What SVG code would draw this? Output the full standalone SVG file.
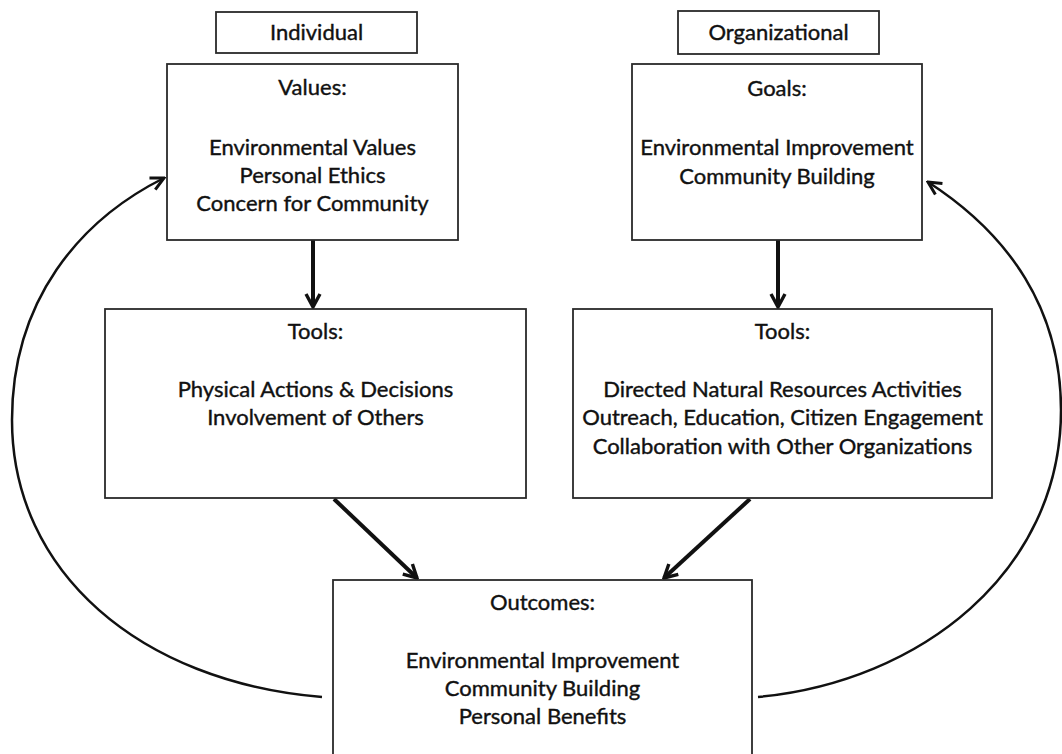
<svg xmlns="http://www.w3.org/2000/svg" width="1062" height="754" viewBox="0 0 1062 754">
  <style>
    .box { fill: #fff; stroke: #2a2a2a; stroke-width: 1.8; }
    .lbl { font-family: Lato, "Liberation Sans", sans-serif; font-size: 22px; fill: #111; stroke: #111; stroke-width: 0.4; text-anchor: middle; }
    .main { fill: none; stroke: #111; stroke-width: 4; }
    .loop { fill: none; stroke: #111; stroke-width: 2.5; }
  </style>
  <defs>
    <marker id="headThick" viewBox="0 0 18 18" refX="16" refY="9" markerWidth="18" markerHeight="18" markerUnits="userSpaceOnUse" orient="auto">
      <path d="M3,2 L16,9 L3,16" fill="none" stroke="#111" stroke-width="3.4" stroke-linejoin="miter"/>
    </marker>
    <marker id="headThin" viewBox="0 0 18 18" refX="16" refY="9" markerWidth="18" markerHeight="18" markerUnits="userSpaceOnUse" orient="auto">
      <path d="M3,2.5 L16,9 L3,15.5" fill="none" stroke="#111" stroke-width="3" stroke-linejoin="miter"/>
    </marker>
  </defs>
  <rect width="1062" height="754" fill="#fff"/>

  <!-- connectors -->
  <g id="connectors">
    <line class="main" x1="313" y1="240" x2="313" y2="307" marker-end="url(#headThick)"/>
    <line class="main" x1="778" y1="240" x2="778" y2="307" marker-end="url(#headThick)"/>
    <line class="main" x1="334" y1="499" x2="417" y2="578" marker-end="url(#headThick)"/>
    <line class="main" x1="750" y1="499" x2="664" y2="578" marker-end="url(#headThick)"/>
    <path class="loop" d="M322,697 C140,682 12,572 12,420 C12,300 80,220 164,178" marker-end="url(#headThin)"/>
    <path class="loop" d="M758,697 C920,682 1061,572 1061,410 C1061,310 1010,235 928,182" marker-end="url(#headThin)"/>
  </g>

  <!-- column headers -->
  <g id="individual">
    <rect class="box" x="216" y="12" width="201" height="41"/>
    <text class="lbl" x="316.5" y="40">Individual</text>
  </g>
  <g id="organizational">
    <rect class="box" x="678" y="11" width="201" height="43"/>
    <text class="lbl" x="778.5" y="40">Organizational</text>
  </g>

  <!-- top row -->
  <g id="values">
    <rect class="box" x="167" y="64" width="291" height="176"/>
    <text class="lbl" x="312.5" y="95">Values:</text>
    <text class="lbl" x="312.5" y="155">Environmental Values</text>
    <text class="lbl" x="312.5" y="183">Personal Ethics</text>
    <text class="lbl" x="312.5" y="211">Concern for Community</text>
  </g>
  <g id="goals">
    <rect class="box" x="632" y="64" width="290" height="176"/>
    <text class="lbl" x="777" y="96">Goals:</text>
    <text class="lbl" x="777" y="155">Environmental Improvement</text>
    <text class="lbl" x="777" y="184">Community Building</text>
  </g>

  <!-- middle row -->
  <g id="tools-individual">
    <rect class="box" x="105" y="309" width="421" height="189"/>
    <text class="lbl" x="315.5" y="339">Tools:</text>
    <text class="lbl" x="315.5" y="397">Physical Actions &amp; Decisions</text>
    <text class="lbl" x="315.5" y="425">Involvement of Others</text>
  </g>
  <g id="tools-organizational">
    <rect class="box" x="573" y="309" width="419" height="189"/>
    <text class="lbl" x="782.5" y="339">Tools:</text>
    <text class="lbl" x="782.5" y="397">Directed Natural Resources Activities</text>
    <text class="lbl" x="782.5" y="425">Outreach, Education, Citizen Engagement</text>
    <text class="lbl" x="782.5" y="454">Collaboration with Other Organizations</text>
  </g>

  <!-- bottom row -->
  <g id="outcomes">
    <rect class="box" x="333" y="580" width="419" height="190"/>
    <text class="lbl" x="542.5" y="610">Outcomes:</text>
    <text class="lbl" x="542.5" y="668">Environmental Improvement</text>
    <text class="lbl" x="542.5" y="696">Community Building</text>
    <text class="lbl" x="542.5" y="724">Personal Benefits</text>
  </g>
</svg>
